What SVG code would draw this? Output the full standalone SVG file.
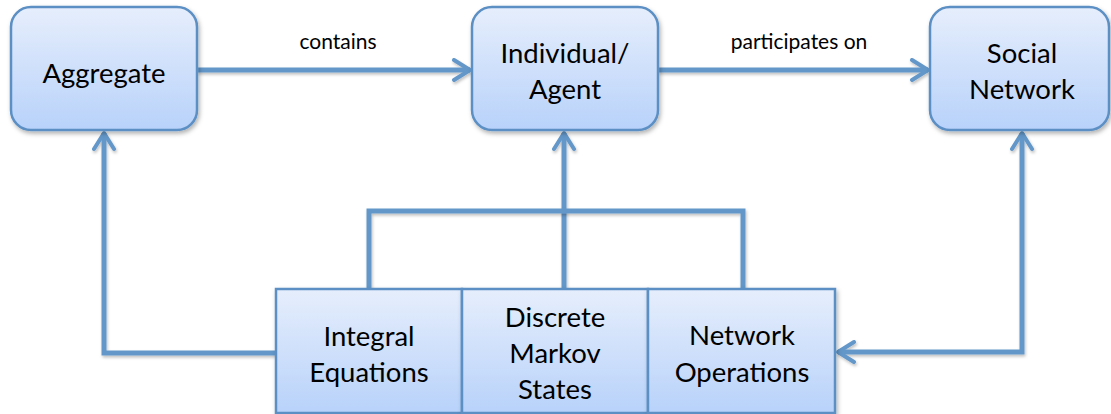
<svg xmlns="http://www.w3.org/2000/svg" width="1111" height="414" viewBox="0 0 1111 414">
  <defs>
    <linearGradient id="boxFill" x1="0" y1="0" x2="0" y2="1">
      <stop offset="0" stop-color="#e6eefc"/>
      <stop offset="1" stop-color="#b8d2fa"/>
    </linearGradient>
    <filter id="shadow" x="-10%" y="-10%" width="130%" height="130%">
      <feDropShadow dx="1.5" dy="2.5" stdDeviation="2" flood-color="#000" flood-opacity="0.3"/>
    </filter>
    <!-- straight wires have zero-height boxes, so their shadow region is given in user space -->
    <filter id="wireShadow" filterUnits="userSpaceOnUse" x="0" y="0" width="1111" height="414">
      <feDropShadow dx="1" dy="2" stdDeviation="1.5" flood-color="#000" flood-opacity="0.25"/>
    </filter>
    <marker id="chevron" viewBox="0 0 12 12" refX="10" refY="6" markerWidth="4.8" markerHeight="4.8" orient="auto-start-reverse" markerUnits="strokeWidth">
      <path d="M2,1 L10,6 L2,11" fill="none" stroke="#6397c9" stroke-width="2" stroke-linecap="round" stroke-linejoin="round"/>
    </marker>
  </defs>
  <style>
    .box { fill: url(#boxFill); stroke: #5b8fc4; stroke-width: 2.5; filter: url(#shadow); }
    .label { font-family: Lato, "Open Sans", "Liberation Sans", sans-serif; font-size: 27.5px; fill: #000; text-anchor: middle; }
    .edge-label { font-family: Lato, "Open Sans", "Liberation Sans", sans-serif; font-size: 21px; fill: #000; text-anchor: middle; }
    .wire { fill: none; stroke: #6397c9; stroke-width: 5; stroke-linejoin: miter; filter: url(#wireShadow); }
  </style>

  <!-- connectors -->
  <g id="connectors">
    <path class="wire" d="M197,70 L470,70" marker-end="url(#chevron)"/>
    <path class="wire" d="M658,70 L928,70" marker-end="url(#chevron)"/>
    <path class="wire" d="M276,353 L104,353 L104,133" marker-end="url(#chevron)"/>
    <path class="wire" d="M564,289 L564,133" marker-end="url(#chevron)"/>
    <path class="wire" d="M369,289 L369,211 L743,211 L743,289"/>
    <path class="wire" d="M838,352 L1022,352 L1022,133" marker-start="url(#chevron)" marker-end="url(#chevron)"/>
    <text class="edge-label" x="338" y="49">contains</text>
    <text class="edge-label" x="799" y="49">participates on</text>
  </g>

  <g id="aggregate">
    <rect class="box" x="11" y="7" width="186" height="123" rx="20"/>
    <text class="label" x="104" y="83">Aggregate</text>
  </g>

  <g id="individual-agent">
    <rect class="box" x="472" y="7" width="186" height="123" rx="20"/>
    <text class="label" x="565" y="63">Individual/</text>
    <text class="label" x="565" y="99">Agent</text>
  </g>

  <g id="social-network">
    <rect class="box" x="930" y="7" width="179" height="123" rx="20"/>
    <text class="label" x="1022" y="63">Social</text>
    <text class="label" x="1022" y="99">Network</text>
  </g>

  <g id="integral-equations">
    <rect class="box" x="276" y="289" width="186" height="124"/>
    <text class="label" x="369" y="346">Integral</text>
    <text class="label" x="369" y="382">Equations</text>
  </g>

  <g id="discrete-markov-states">
    <rect class="box" x="462" y="289" width="186" height="124"/>
    <text class="label" x="555" y="327">Discrete</text>
    <text class="label" x="555" y="363">Markov</text>
    <text class="label" x="555" y="399">States</text>
  </g>

  <g id="network-operations">
    <rect class="box" x="648" y="289" width="187" height="124"/>
    <text class="label" x="742" y="345">Network</text>
    <text class="label" x="742" y="382">Operations</text>
  </g>
</svg>
